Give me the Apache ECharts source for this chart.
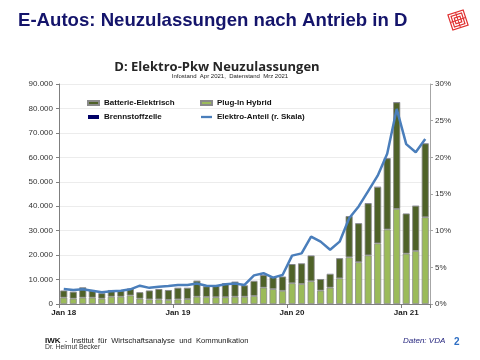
<!DOCTYPE html>
<html><head><meta charset="utf-8">
<script src="https://cdn.jsdelivr.net/npm/echarts@6/dist/echarts.min.js"></script>
<style>html,body{margin:0;padding:0;background:#fff}#c{width:480px;height:360px}</style>
</head><body><div id="c"></div>
<script>
const categories = ["Jan 18","Feb 18","Mrz 18","Apr 18","Mai 18","Jun 18","Jul 18","Aug 18","Sep 18","Okt 18","Nov 18","Dez 18",
"Jan 19","Feb 19","Mrz 19","Apr 19","Mai 19","Jun 19","Jul 19","Aug 19","Sep 19","Okt 19","Nov 19","Dez 19",
"Jan 20","Feb 20","Mrz 20","Apr 20","Mai 20","Jun 20","Jul 20","Aug 20","Sep 20","Okt 20","Nov 20","Dez 20",
"Jan 21","Feb 21","Mrz 21"];
const phev = [2600,2200,2600,2600,2200,3000,3000,3500,2200,1900,1900,1700,
1900,2000,3000,2900,2800,2800,3000,3000,3300,6700,6100,5400,
8500,8200,9300,5500,6700,10500,19100,17100,19900,24800,30500,38900,20600,21700,35500];
const bev = [2900,2800,4200,3100,2200,2700,2500,2800,2600,3600,4200,4000,
4700,4600,6500,4300,4600,5700,6100,4600,6100,5100,4900,5800,
7800,8400,10500,4700,5600,8200,16800,15900,21300,23100,29100,43600,16400,18500,30200];
const fcev = [20,30,25,30,20,25,30,35,25,30,40,35,
30,25,40,35,30,40,35,30,45,40,35,30,
40,35,45,20,30,40,50,45,60,55,60,70,30,35,50];
const share = [2.05,1.9,2.0,1.8,1.6,1.75,1.8,2.0,2.5,2.2,2.35,2.45,
2.6,2.6,2.8,2.5,2.45,2.7,2.8,2.6,3.9,4.2,3.6,3.95,
6.6,6.9,9.2,8.5,7.4,8.5,11.7,13.3,15.4,17.5,20.5,26.6,21.8,20.7,22.5];
const leftTicks = {min:0,max:90000,interval:10000};
const rightTicks = {min:0,max:30,interval:5};

const chart = echarts.init(document.getElementById('c'), null, {renderer:'canvas'});
const F = '"Liberation Sans", Arial, sans-serif';
const fmtThousands = v => v === 0 ? '0' : String(v).replace(/\B(?=(\d{3})+(?!\d))/g,'.');
const barBorder = {borderColor:'#8a8a8a', borderWidth:0.8};
chart.setOption({
  animation:false,
  textStyle:{fontFamily:F},
  grid:{left:59,right:50,top:84,bottom:56,containLabel:false},
  legend:[
    {orient:'vertical',left:82,top:93,itemWidth:11,itemHeight:4,itemGap:4,
     textStyle:{fontSize:8,fontWeight:'bold',color:'#111',fontFamily:F,lineHeight:10},
     data:[{name:'Batterie-Elektrisch',icon:'rect'},{name:'Brennstoffzelle',icon:'rect'}]},
    {orient:'vertical',left:195,top:93,itemWidth:11,itemHeight:4,itemGap:4,
     textStyle:{fontSize:8,fontWeight:'bold',color:'#111',fontFamily:F,lineHeight:10},
     data:[{name:'Plug-In Hybrid',icon:'rect'},{name:'Elektro-Anteil (r. Skala)',icon:'path://M0,0 L12,0 L12,2.5 L0,2.5 Z'}]}
  ],
  xAxis:{type:'category',data:categories,boundaryGap:true,
    axisLine:{lineStyle:{color:'#7f7f7f',width:1}},
    axisTick:{show:true,interval:11,length:4,lineStyle:{color:'#7f7f7f'}},
    axisLabel:{interval:11,margin:5,fontSize:8,fontWeight:'bold',color:'#222',fontFamily:F}},
  yAxis:[
    {type:'value',min:leftTicks.min,max:leftTicks.max,interval:leftTicks.interval,
     axisLine:{show:true,lineStyle:{color:'#7f7f7f'}},
     axisTick:{show:true,length:3,lineStyle:{color:'#7f7f7f'}},
     splitLine:{lineStyle:{color:'#ececec',width:1}},
     axisLabel:{margin:6,fontSize:8,color:'#333',fontFamily:F,formatter:fmtThousands}},
    {type:'value',min:rightTicks.min,max:rightTicks.max,interval:rightTicks.interval,position:'right',
     axisLine:{show:true,lineStyle:{color:'#a6a6a6'}},
     axisTick:{show:true,length:3,lineStyle:{color:'#a6a6a6'}},
     splitLine:{show:false},
     axisLabel:{margin:5,fontSize:8,color:'#333',fontFamily:F,formatter:v=>v+'%'}}
  ],
  series:[
    {name:'Plug-In Hybrid',type:'bar',stack:'a',data:phev,barCategoryGap:'26%',
     itemStyle:Object.assign({color:'#9bbb59'},barBorder)},
    {name:'Batterie-Elektrisch',type:'bar',stack:'a',data:bev,
     itemStyle:Object.assign({color:'#4f6228'},barBorder)},
    {name:'Brennstoffzelle',type:'bar',stack:'a',data:fcev,
     itemStyle:{color:'#000066'}},
    {name:'Elektro-Anteil (r. Skala)',type:'line',yAxisIndex:1,data:share,symbol:'none',
     lineStyle:{color:'#4a7ebb',width:2.5},itemStyle:{color:'#4a7ebb'},z:5}
  ],
  graphic:[
    {type:'text',left:18,top:11.5,style:{text:'E-Autos: Neuzulassungen nach Antrieb in D',font:'bold 18.6px '+F,fill:'#14146b'}},
    {type:'text',x:217,y:67.5,style:{text:'D: Elektro-Pkw Neuzulassungen',font:'bold 13px "Open Sans", "Noto Sans", sans-serif',fill:'#262626',textAlign:'center',textVerticalAlign:'middle'}},
    {type:'text',x:230,y:76.5,style:{text:'Infostand  Apr 2021,  Datenstand  Mrz 2021',font:'6px '+F,fill:'#222',textAlign:'center',textVerticalAlign:'middle'}},
    {type:'text',x:45,y:340.5,style:{text:'{b|IWK}  -  Institut  für  Wirtschaftsanalyse  und  Kommunikation',font:'7.6px '+F,fill:'#222',textVerticalAlign:'middle',
      rich:{b:{font:'bold 8px '+F,fill:'#111'}}}},
    {type:'text',x:45,y:347.5,style:{text:'Dr. Helmut Becker',font:'6.8px '+F,fill:'#333',textVerticalAlign:'middle'}},
    {type:'text',x:403,y:341,style:{text:'Daten: VDA',font:'italic 8px '+F,fill:'#1f1f7a',textVerticalAlign:'middle'}},
    {type:'text',x:454,y:342.5,style:{text:'2',font:'bold 10px '+F,fill:'#2f6fc4',textVerticalAlign:'middle'}},
    {type:'group',x:458,y:20,rotation:Math.PI/10,children:[
      {type:'rect',shape:{x:-8,y:-8,width:16,height:16},style:{fill:'#fff',stroke:'#e03030',lineWidth:1.2}},
      {type:'rect',shape:{x:-5.5,y:-5.5,width:11,height:11},style:{fill:'none',stroke:'#e03030',lineWidth:1.2}},
      {type:'rect',shape:{x:-3,y:-3,width:6,height:6},style:{fill:'none',stroke:'#e03030',lineWidth:1.2}},
      {type:'line',shape:{x1:-8,y1:0,x2:8,y2:0},style:{stroke:'#e03030',lineWidth:1}},
      {type:'line',shape:{x1:0,y1:-8,x2:0,y2:8},style:{stroke:'#e03030',lineWidth:1}}
    ]}
  ]
});
</script></body></html>
